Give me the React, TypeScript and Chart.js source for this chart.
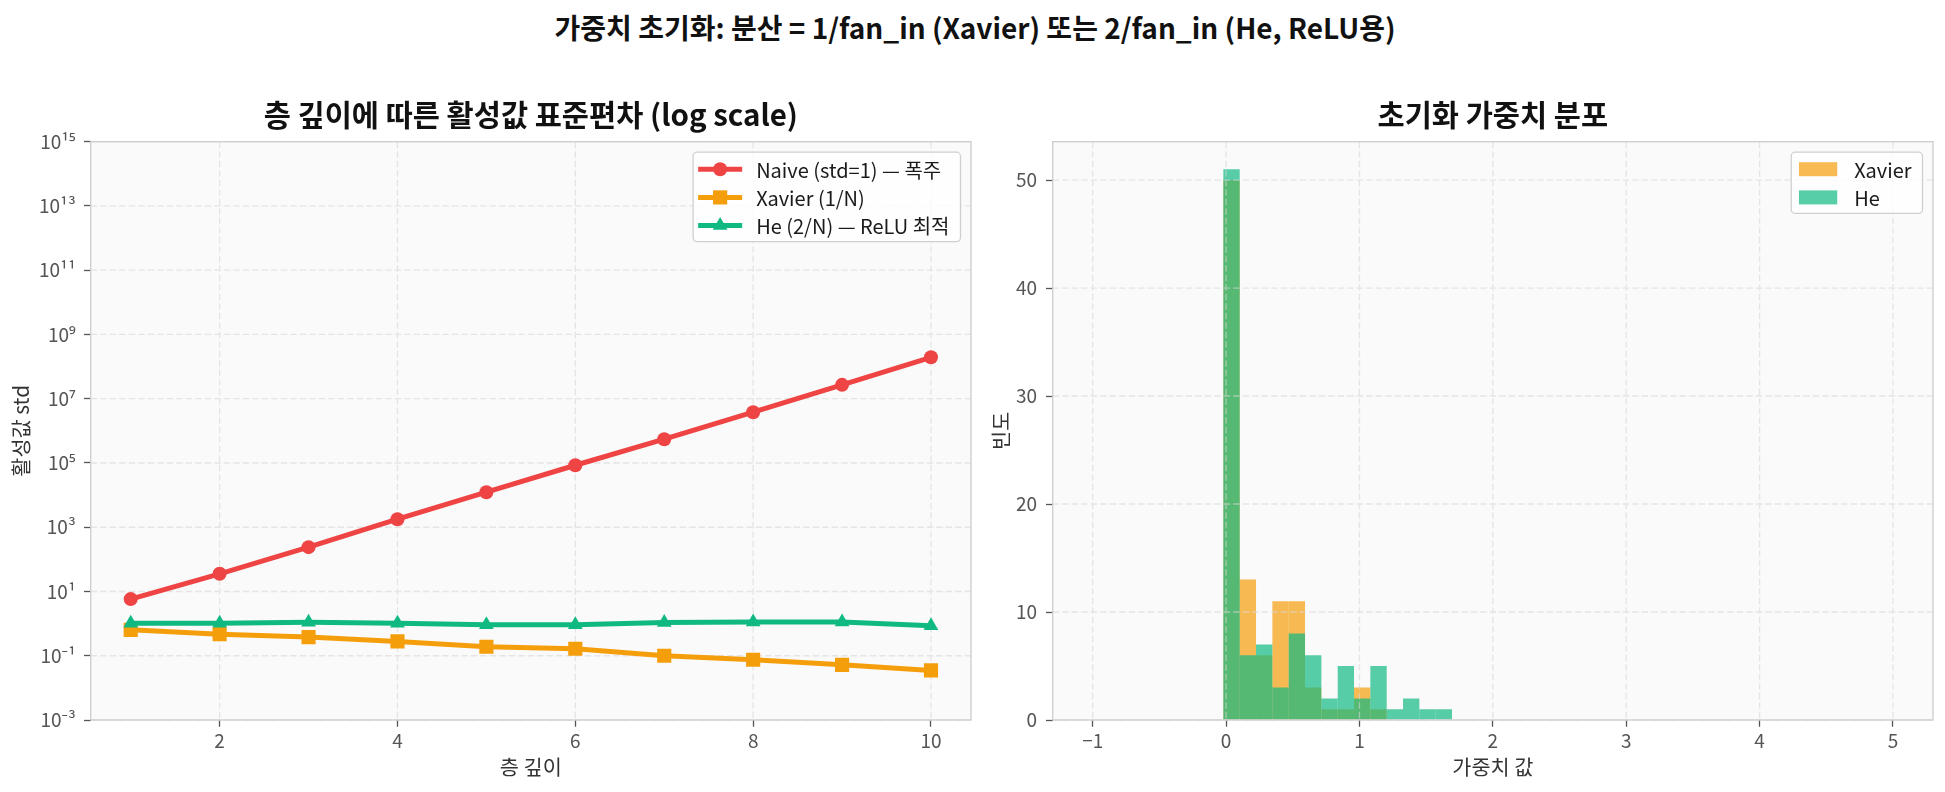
import React, { useEffect, useRef } from 'react';
import { Chart, registerables } from 'chart.js';

Chart.register(...registerables);

const FONT = "'Noto Sans CJK KR', 'Noto Sans', 'DejaVu Sans', sans-serif";

// ---------- Left chart data ----------
const depthLayers = [1, 2, 3, 4, 5, 6, 7, 8, 9, 10];
const naiveStd = [5.8, 35.5, 240, 1780, 12300, 85000, 550000, 3.8e6, 2.7e7, 1.95e8];
const xavierStd = [0.64, 0.47, 0.38, 0.28, 0.19, 0.165, 0.1, 0.075, 0.052, 0.035];
const heStd = [1.03, 1.03, 1.1, 1.03, 0.92, 0.92, 1.08, 1.12, 1.12, 0.86];
const leftXTicks = [2, 4, 6, 8, 10];
const leftYTickExponents = [-3, -1, 1, 3, 5, 7, 9, 11, 13, 15];

// ---------- Right chart data (histogram, bins = linspace(-1, 5, 50)) ----------
const histBinStart = -1;
const histBinEnd = 5;
const histBinCount = 49;
const histFirstBin = 8;
const xavierCounts = [50, 13, 6, 11, 11, 3, 1, 1, 3, 1, 0, 0, 0, 0];
const heCounts = [51, 6, 7, 3, 8, 6, 2, 5, 2, 5, 1, 2, 1, 1];
const rightXTicks = [-1, 0, 1, 2, 3, 4, 5];
const rightYTicks = [0, 10, 20, 30, 40, 50];

const RED = '#ef4444';
const ORANGE = '#f59e0b';
const GREEN = '#10b981';
const ORANGE_A = 'rgba(245,158,11,0.7)';
const GREEN_A = 'rgba(16,185,129,0.7)';

const TICK_COLOR = '#555555';
const LABEL_COLOR = '#333333';
const GRID_COLOR = 'rgba(215,215,215,0.6)';
const SPINE_COLOR = '#cccccc';

const SUP: Record<string, string> = {
  '0': '⁰', '1': '¹', '2': '²', '3': '³', '4': '⁴', '5': '⁵', '6': '⁶', '7': '⁷', '8': '⁸', '9': '⁹', '-': '⁻',
};
const sup = (n: number) => String(n).split('').map((c) => SUP[c] || c).join('');
const fmtNum = (v: number) => (v < 0 ? '−' + Math.abs(v) : String(v));

function drawMarker(ctx: CanvasRenderingContext2D, style: string, x: number, y: number, r: number, color: string) {
  ctx.fillStyle = color;
  ctx.beginPath();
  if (style === 'circle') {
    ctx.arc(x, y, r, 0, Math.PI * 2);
  } else if (style === 'rect') {
    const h = r * Math.SQRT1_2;
    ctx.rect(x - h, y - h, 2 * h, 2 * h);
  } else {
    const a = (2 * Math.PI) / 3;
    ctx.moveTo(x, y - r);
    ctx.lineTo(x + r * Math.sin(a), y - r * Math.cos(a));
    ctx.lineTo(x - r * Math.sin(a), y - r * Math.cos(a));
    ctx.closePath();
  }
  ctx.fill();
}

type LegendItem = { label: string; color: string; kind: 'line' | 'patch'; marker?: string; radius?: number };

function makeMplPlugin(gridAbove: boolean, legend: LegendItem[]) {
  const drawGrid = (chart: any) => {
    const { ctx, chartArea: a, scales } = chart;
    ctx.save();
    ctx.strokeStyle = GRID_COLOR;
    ctx.lineWidth = 1.3;
    ctx.setLineDash([6.5, 3]);
    ctx.beginPath();
    scales.x.ticks.forEach((t: any) => {
      const px = scales.x.getPixelForValue(t.value);
      ctx.moveTo(px, a.top);
      ctx.lineTo(px, a.bottom);
    });
    scales.y.ticks.forEach((t: any) => {
      const py = scales.y.getPixelForValue(t.value);
      ctx.moveTo(a.left, py);
      ctx.lineTo(a.right, py);
    });
    ctx.stroke();
    ctx.restore();
  };
  const drawLegend = (chart: any) => {
    const { ctx, chartArea: a } = chart;
    ctx.save();
    ctx.font = `20px ${FONT}`;
    const maxW = Math.max(...legend.map((it) => ctx.measureText(it.label).width));
    const textOff = 63;
    const rowH = 28.2;
    const padTop = 17;
    const padBot = 16;
    const w = textOff + maxW + 11;
    const h = padTop + rowH * (legend.length - 1) + padBot;
    const x = a.right - 10.5 - w;
    const y = a.top + 10.5;
    ctx.beginPath();
    (ctx as any).roundRect(x, y, w, h, 4);
    ctx.fillStyle = 'rgba(255,255,255,0.8)';
    ctx.fill();
    ctx.strokeStyle = '#d0d0d0';
    ctx.lineWidth = 1.3;
    ctx.stroke();
    legend.forEach((it, i) => {
      const cy = y + padTop + i * rowH;
      if (it.kind === 'line') {
        ctx.strokeStyle = it.color;
        ctx.lineWidth = 5;
        ctx.beginPath();
        ctx.moveTo(x + 5, cy);
        ctx.lineTo(x + 49, cy);
        ctx.stroke();
        drawMarker(ctx, it.marker || 'circle', x + 27, cy, it.radius || 7, it.color);
      } else {
        ctx.fillStyle = it.color;
        ctx.fillRect(x + 7.7, cy - 7, 38.3, 14);
      }
      ctx.fillStyle = '#1a1a1a';
      ctx.textBaseline = 'middle';
      ctx.textAlign = 'left';
      ctx.fillText(it.label, x + textOff, cy + 1);
    });
    ctx.restore();
  };
  return {
    id: 'mplStyle',
    beforeDraw(chart: any) {
      const { ctx, chartArea: a } = chart;
      ctx.save();
      ctx.fillStyle = '#ffffff';
      ctx.fillRect(0, 0, chart.width, chart.height);
      ctx.fillStyle = '#fafafa';
      ctx.fillRect(a.left, a.top, a.right - a.left, a.bottom - a.top);
      ctx.restore();
    },
    beforeDatasetsDraw(chart: any) {
      if (!gridAbove) drawGrid(chart);
    },
    afterDatasetsDraw(chart: any) {
      if (gridAbove) drawGrid(chart);
      const { ctx, chartArea: a } = chart;
      ctx.save();
      ctx.strokeStyle = SPINE_COLOR;
      ctx.lineWidth = 1.3;
      ctx.strokeRect(a.left, a.top, a.right - a.left, a.bottom - a.top);
      ctx.restore();
      drawLegend(chart);
    },
  };
}

const axisCommon = (tickPad: number) => ({
  grid: {
    display: true,
    drawOnChartArea: false,
    drawTicks: true,
    tickLength: 6.7,
    tickWidth: 1.3,
    tickColor: '#555555',
    color: 'transparent',
  },
  border: { display: false },
  ticks: {
    color: TICK_COLOR,
    font: { size: 19, family: FONT },
    padding: tickPad,
    autoSkip: false,
    maxRotation: 0,
    minRotation: 0,
  },
});

const titleOpts = (text: string) => ({
  display: true,
  text,
  fullSize: false,
  color: '#111111',
  font: { size: 29.5, weight: 'bold', family: FONT },
  padding: { top: 26.7, bottom: 9.6 },
});

function LeftChart() {
  const ref = useRef<HTMLCanvasElement>(null);
  useEffect(() => {
    if (!ref.current) return;
    const xc = axisCommon(3);
    const yc = axisCommon(8.3);
    const chart = new Chart(ref.current, {
      type: 'line',
      data: {
        datasets: [
          {
            label: 'Naive (std=1) — 폭주',
            data: depthLayers.map((x, i) => ({ x, y: naiveStd[i] })),
            borderColor: RED,
            backgroundColor: RED,
            pointBackgroundColor: RED,
            pointBorderWidth: 0,
            pointStyle: 'circle',
            pointRadius: 7,
            borderWidth: 5,
            tension: 0,
            order: 3,
          },
          {
            label: 'Xavier (1/N)',
            data: depthLayers.map((x, i) => ({ x, y: xavierStd[i] })),
            borderColor: ORANGE,
            backgroundColor: ORANGE,
            pointBackgroundColor: ORANGE,
            pointBorderWidth: 0,
            pointStyle: 'rect',
            pointRadius: 10,
            borderWidth: 5,
            tension: 0,
            order: 2,
          },
          {
            label: 'He (2/N) — ReLU 최적',
            data: depthLayers.map((x, i) => ({ x, y: heStd[i] })),
            borderColor: GREEN,
            backgroundColor: GREEN,
            pointBackgroundColor: GREEN,
            pointBorderWidth: 0,
            pointStyle: 'triangle',
            pointRadius: 8.5,
            borderWidth: 5,
            tension: 0,
            order: 1,
          },
        ],
      } as any,
      options: {
        animation: false,
        responsive: false,
        devicePixelRatio: 1,
        layout: { padding: { left: 0, right: 19, top: 0, bottom: 0 }, autoPadding: false },
        plugins: {
          legend: { display: false },
          tooltip: { enabled: false },
          title: titleOpts('층 깊이에 따른 활성값 표준편차 (log scale)'),
        },
        scales: {
          x: {
            type: 'linear',
            min: 0.55,
            max: 10.45,
            ...xc,
            ticks: { ...xc.ticks, callback: (v: any) => fmtNum(Number(v)) },
            afterBuildTicks: (s: any) => {
              s.ticks = leftXTicks.map((v) => ({ value: v }));
            },
            afterFit: (s: any) => {
              s.height = 72;
            },
            title: {
              display: true,
              text: '층 깊이',
              color: LABEL_COLOR,
              font: { size: 20.8, family: FONT },
              padding: { top: 0, bottom: 12.5 },
            },
          },
          y: {
            type: 'logarithmic',
            min: 1e-3,
            max: 1e15,
            ...yc,
            ticks: {
              ...yc.ticks,
              callback: (v: any) => '10' + sup(Math.round(Math.log10(Number(v)))),
            },
            afterBuildTicks: (s: any) => {
              s.ticks = leftYTickExponents.map((e) => ({ value: Math.pow(10, e) }));
            },
            afterFit: (s: any) => {
              s.width = 90.7;
            },
            title: {
              display: true,
              text: '활성값 std',
              color: LABEL_COLOR,
              font: { size: 20.8, family: FONT },
              padding: { top: 8.5, bottom: 0 },
            },
          },
        },
      } as any,
      plugins: [
        makeMplPlugin(false, [
          { label: 'Naive (std=1) — 폭주', color: RED, kind: 'line', marker: 'circle', radius: 7 },
          { label: 'Xavier (1/N)', color: ORANGE, kind: 'line', marker: 'rect', radius: 10 },
          { label: 'He (2/N) — ReLU 최적', color: GREEN, kind: 'line', marker: 'triangle', radius: 8.5 },
        ]),
      ],
    });
    return () => chart.destroy();
  }, []);
  return <canvas ref={ref} width={990} height={722} style={{ position: 'absolute', left: 0, top: 70 }} />;
}

function RightChart() {
  const ref = useRef<HTMLCanvasElement>(null);
  useEffect(() => {
    if (!ref.current) return;
    const binW = (histBinEnd - histBinStart) / histBinCount;
    const center = (k: number) => histBinStart + (k + 0.5) * binW;
    const xc = axisCommon(3);
    const yc = axisCommon(9);
    const barCommon = {
      grouped: false,
      barPercentage: 1,
      categoryPercentage: 1,
      borderWidth: 0,
      inflateAmount: 0,
    };
    const chart = new Chart(ref.current, {
      type: 'bar',
      data: {
        datasets: [
          {
            label: 'Xavier',
            data: xavierCounts.map((c, i) => ({ x: center(histFirstBin + i), y: c })),
            backgroundColor: ORANGE_A,
            order: 2,
            ...barCommon,
          },
          {
            label: 'He',
            data: heCounts.map((c, i) => ({ x: center(histFirstBin + i), y: c })),
            backgroundColor: GREEN_A,
            order: 1,
            ...barCommon,
          },
        ],
      } as any,
      options: {
        animation: false,
        responsive: false,
        devicePixelRatio: 1,
        layout: { padding: { left: 0, right: 12, top: 0, bottom: 0 }, autoPadding: false },
        plugins: {
          legend: { display: false },
          tooltip: { enabled: false },
          title: titleOpts('초기화 가중치 분포'),
        },
        scales: {
          x: {
            type: 'linear',
            min: -1.3,
            max: 5.3,
            offset: false,
            ...xc,
            grid: { ...xc.grid, offset: false },
            ticks: { ...xc.ticks, callback: (v: any) => fmtNum(Number(v)) },
            afterBuildTicks: (s: any) => {
              s.ticks = rightXTicks.map((v) => ({ value: v }));
            },
            afterFit: (s: any) => {
              s.height = 72;
            },
            title: {
              display: true,
              text: '가중치 값',
              color: LABEL_COLOR,
              font: { size: 20.8, family: FONT },
              padding: { top: 0, bottom: 12.5 },
            },
          },
          y: {
            type: 'linear',
            min: 0,
            max: 53.55,
            ...yc,
            ticks: { ...yc.ticks, callback: (v: any) => fmtNum(Number(v)) },
            afterBuildTicks: (s: any) => {
              s.ticks = rightYTicks.map((v) => ({ value: v }));
            },
            afterFit: (s: any) => {
              s.width = 62.7;
            },
            title: {
              display: true,
              text: '빈도',
              color: LABEL_COLOR,
              font: { size: 20.8, family: FONT },
              padding: { top: -1, bottom: 0 },
            },
          },
        },
      } as any,
      plugins: [
        makeMplPlugin(true, [
          { label: 'Xavier', color: ORANGE_A, kind: 'patch' },
          { label: 'He', color: GREEN_A, kind: 'patch' },
        ]),
      ],
    });
    return () => chart.destroy();
  }, []);
  return <canvas ref={ref} width={955} height={722} style={{ position: 'absolute', left: 990, top: 70 }} />;
}

export default function App() {
  return (
    <div
      style={{
        position: 'absolute',
        left: 0,
        top: 0,
        width: 1945,
        height: 792,
        background: '#ffffff',
        overflow: 'hidden',
      }}
    >
      <div
        style={{
          position: 'absolute',
          left: 0,
          top: 9.7,
          width: 1950,
          textAlign: 'center',
          fontFamily: FONT,
          fontWeight: 'bold',
          fontSize: 28,
          lineHeight: '34px',
          color: '#111111',
          whiteSpace: 'nowrap',
        }}
      >
        가중치 초기화: 분산 = 1/fan_in (Xavier) 또는 2/fan_in (He, ReLU용)
      </div>
      <LeftChart />
      <RightChart />
    </div>
  );
}
